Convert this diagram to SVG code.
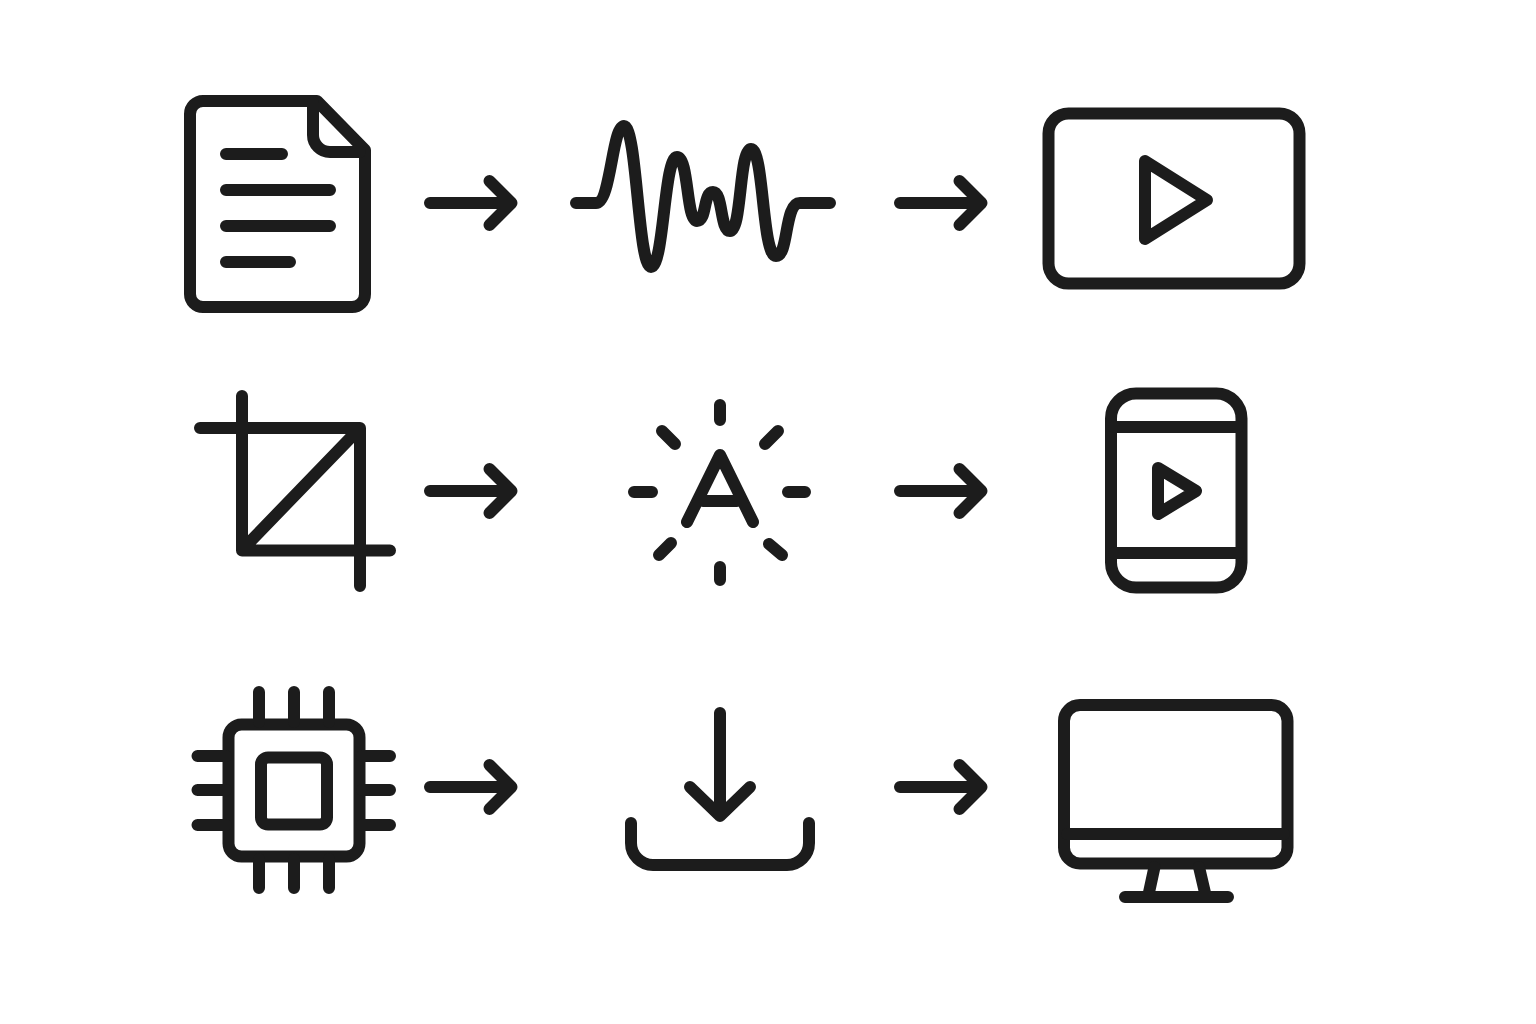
<svg xmlns="http://www.w3.org/2000/svg" width="1536" height="1024" viewBox="0 0 1536 1024">
<style>
.s{fill:none;stroke:#1c1c1c;stroke-width:12;stroke-linecap:round;stroke-linejoin:round}
</style>
<defs>
<g id="arrow"><path d="M0 0H76M59.500 -22L81.500 0L59.500 22"/></g>
</defs>
<rect width="1536" height="1024" fill="#fff"/>
<g id="document" class="s"><path d="M317 101H203A13 13 0 0 0 190 114V294A13 13 0 0 0 203 307H352A13 13 0 0 0 365 294V150Z"/><path d="M313 103V135A17 17 0 0 0 330 152H360"/><path d="M226 154H282M226 190H330M226 226H330M226 262H290"/></g>
<g id="waveform" class="s"><path d="M576 203H596C611 203 612 126 624 126C637 126 638 267 651 267C664 267 664 157 677 157C689 157 686 221 697 221C707 221 703 192 713 192C723 192 720 231 730 231C742 231 739 149 751 149C764 149 762 256 776 256C789 256 784 203 800 203H830"/></g>
<g id="video" class="s"><rect x="1048.500" y="113.500" width="251" height="170" rx="20"/><path d="M1145 161L1207 200L1145 239Z"/></g>
<g id="crop" class="s"><path d="M200 428H360V586M242 396V550.500H390M360 428L242 550"/></g>
<g id="sparkle-text" class="s"><path d="M687 522L720 455L753 522M703 501H737"/><path d="M720 405V420M720 567V580M634 492H652M788 492H805M662 431L675 444M778 431L765 444M671 543L659 555M769 544L782 555"/></g>
<g id="phone" class="s"><rect x="1111" y="393.500" width="130.500" height="194" rx="25"/><path d="M1114 427H1238M1114 553H1238"/><path d="M1158 468L1196 491L1158 514Z"/></g>
<g id="chip" class="s"><rect x="228.500" y="724.500" width="131" height="132" rx="13"/><rect x="261" y="757.500" width="66" height="67" rx="7"/><path d="M259 692V722M294 692V722M329 692V722M259 859V888M294 859V888M329 859V888M197.500 756H226M197.500 790H226M197.500 825H226M362 756H390M362 790H390M362 825H390"/></g>
<g id="download" class="s"><path d="M720 713V810M690 787L720 816L750 787"/><path d="M631 823V843A22 22 0 0 0 653 865H787A22 22 0 0 0 809 843V823"/></g>
<g id="monitor" class="s"><rect x="1064" y="705" width="223.500" height="158.500" rx="16"/><path d="M1067 834H1284M1154.500 867L1148 897M1199 867L1206 897M1125 897H1228"/></g>
<g id="connectors" class="s">
<use href="#arrow" x="430" y="203"/><use href="#arrow" x="900" y="203"/>
<use href="#arrow" x="430" y="491"/><use href="#arrow" x="900" y="491"/>
<use href="#arrow" x="430" y="787"/><use href="#arrow" x="900" y="787"/>
</g>
</svg>
